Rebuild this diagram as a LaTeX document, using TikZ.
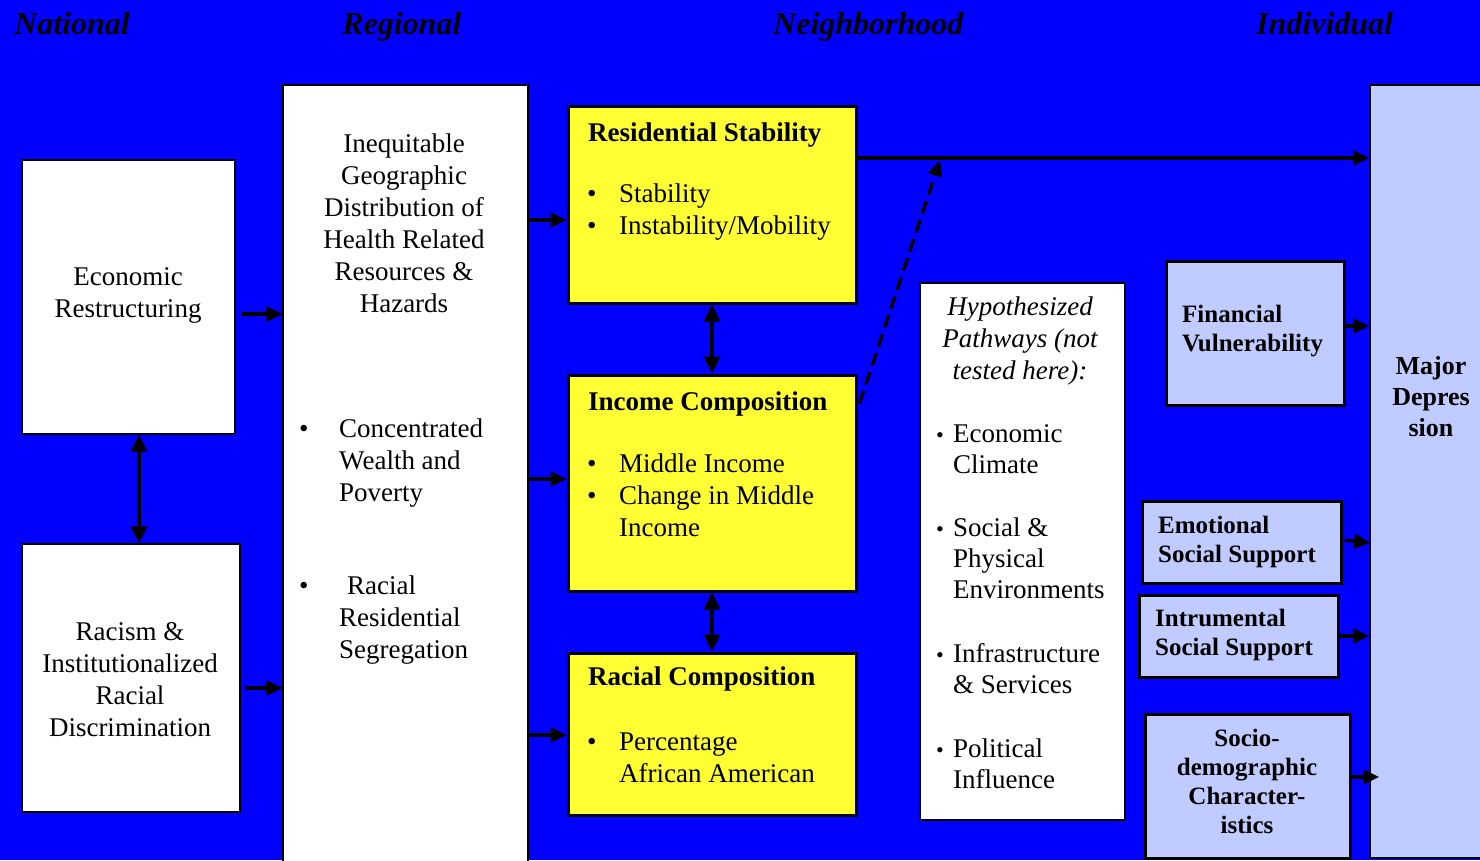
\documentclass[tikz,border=0pt]{standalone}
\usepackage{fontspec}
\setmainfont{Liberation Serif}
\usetikzlibrary{arrows.meta,calc}
\definecolor{bg}{RGB}{0,0,255}
\definecolor{yel}{RGB}{255,255,51}
\definecolor{lblue}{RGB}{192,204,255}
\begin{document}
\begin{tikzpicture}[x=1pt,y=-1pt,
  box/.style={draw=black,rectangle,inner sep=0pt},
  wbox/.style={box,fill=white,line width=1.2pt},
  ybox/.style={box,fill=yel,line width=3pt},
  lbox/.style={box,fill=lblue,line width=3pt},
  mbox/.style={box,fill=lblue,line width=2pt},
  hdr/.style={inner sep=0pt,anchor=base west,font=\fontsize{32}{36}\selectfont\bfseries\itshape},
  txt/.style={inner sep=0pt,font=\fontsize{27}{32}\selectfont},
  btxt/.style={inner sep=0pt,font=\fontsize{27}{32}\selectfont\bfseries},
  stxt/.style={inner sep=0pt,font=\fontsize{25}{29}\selectfont\bfseries},
  arr/.style={line width=3.2pt,-{Triangle[length=16pt,width=15pt]}},
  darr/.style={line width=3.4pt,{Triangle[length=17pt,width=16pt]}-{Triangle[length=17pt,width=16pt]}},
  dasharr/.style={line width=3.4pt,-{Triangle[length=16pt,width=14pt]},dash pattern=on 13pt off 7pt}
]
\fill[bg] (0,0) rectangle (1480,860);
\useasboundingbox (0,0) rectangle (1480,860);

% headers
\node[hdr] (hnat) at (14,34) {National};
\node[hdr] (hreg) at (342,34) {Regional};
\node[hdr] (hnei) at (773,34) {Neighborhood};
\node[hdr] (hind) at (1256,34) {Individual};

% boxes
\node[wbox,minimum width=213pt,minimum height=274pt] (econ) at (128.5,297) {};
\node[wbox,minimum width=218pt,minimum height=268pt] (racism) at (131,678) {};
\node[wbox,minimum width=245pt,minimum height=800pt] (reg) at (405.5,485) {};
\node[ybox,minimum width=288pt,minimum height=197pt] (rs) at (712,204.5) {};
\node[ybox,minimum width=288pt,minimum height=216pt] (ic) at (712,483) {};
\node[ybox,minimum width=288pt,minimum height=162pt] (rc) at (712,734) {};
\node[wbox,minimum width=205pt,minimum height=537pt] (hyp) at (1022.5,551.5) {};
\node[lbox,minimum width=178pt,minimum height=144pt] (fin) at (1255,333) {};
\node[lbox,minimum width=199pt,minimum height=82pt] (emo) at (1241.5,542) {};
\node[lbox,minimum width=199pt,minimum height=82pt] (ins) at (1238.5,636) {};
\node[lbox,minimum width=205pt,minimum height=144pt] (socio) at (1247.5,786) {};
\node[mbox,minimum width=130pt,minimum height=773pt] (mdep) at (1435,471.5) {};

% texts: national
\node[txt,anchor=north,align=center] (teco) at (128,266) {\rule{0pt}{19pt}Economic\\Restructuring};
\node[txt,anchor=north,align=center] (trac) at (130,621) {\rule{0pt}{19pt}Racism \&\\Institutionalized\\Racial\\Discrimination};

% regional
\node[txt,anchor=north,align=center] (treg) at (404,133) {\rule{0pt}{19pt}Inequitable\\Geographic\\Distribution of\\Health Related\\Resources \&\\Hazards};
\node[txt,anchor=base west] (b1) at (299,437) {\textbullet};
\node[txt,anchor=north west,align=left] (tconc) at (339,418) {\rule{0pt}{19pt}Concentrated\\Wealth and\\Poverty};
\node[txt,anchor=base west] (b2) at (299,594) {\textbullet};
\node[txt,anchor=north west,align=left] (tseg) at (339,575) {\rule{0pt}{19pt}\hspace*{8pt}Racial\\Residential\\Segregation};

% neighborhood
\node[btxt,anchor=base west] (trs) at (588,141) {Residential Stability};
\node[txt,anchor=base west] (b3) at (587,202) {\textbullet};
\node[txt,anchor=base west] (trs1) at (619,202) {Stability};
\node[txt,anchor=base west] (b4) at (587,234) {\textbullet};
\node[txt,anchor=base west] (trs2) at (619,234) {Instability/Mobility};

\node[btxt,anchor=base west] (tic) at (588,410) {Income Composition};
\node[txt,anchor=base west] (b5) at (587,472) {\textbullet};
\node[txt,anchor=base west] (tic1) at (619,472) {Middle Income};
\node[txt,anchor=base west] (b6) at (587,504) {\textbullet};
\node[txt,anchor=north west,align=left] (tic2) at (619,485) {\rule{0pt}{19pt}Change in Middle\\Income};

\node[btxt,anchor=base west] (trc) at (588,685) {Racial Composition};
\node[txt,anchor=base west] (b7) at (587,750) {\textbullet};
\node[txt,anchor=north west,align=left] (trc1) at (619,731) {\rule{0pt}{19pt}Percentage\\African American};

% hypothesized
\node[txt,anchor=north,align=center,font=\fontsize{27}{32}\selectfont\itshape] (thyp) at (1020,296) {\rule{0pt}{19pt}Hypothesized\\Pathways (not\\tested here):};
\node[txt,anchor=base west,font=\fontsize{22}{24}\selectfont] (h1) at (936,442) {\textbullet};
\node[txt,anchor=north west,align=left,font=\fontsize{27}{31}\selectfont] (th1) at (953,423) {\rule{0pt}{19pt}Economic\\Climate};
\node[txt,anchor=base west,font=\fontsize{22}{24}\selectfont] (h2) at (936,536) {\textbullet};
\node[txt,anchor=north west,align=left,font=\fontsize{27}{31}\selectfont] (th2) at (953,517) {\rule{0pt}{19pt}Social \&\\Physical\\Environments};
\node[txt,anchor=base west,font=\fontsize{22}{24}\selectfont] (h3) at (936,662) {\textbullet};
\node[txt,anchor=north west,align=left,font=\fontsize{27}{31}\selectfont] (th3) at (953,643) {\rule{0pt}{19pt}Infrastructure\\\& Services};
\node[txt,anchor=base west,font=\fontsize{22}{24}\selectfont] (h4) at (936,757) {\textbullet};
\node[txt,anchor=north west,align=left,font=\fontsize{27}{31}\selectfont] (th4) at (953,738) {\rule{0pt}{19pt}Political\\Influence};

% individual
\node[stxt,anchor=north west,align=left] (tfin) at (1182,304) {\rule{0pt}{18pt}Financial\\Vulnerability};
\node[stxt,anchor=north west,align=left] (temo) at (1158,515) {\rule{0pt}{18pt}Emotional\\Social Support};
\node[stxt,anchor=north west,align=left] (tins) at (1155,608) {\rule{0pt}{18pt}Intrumental\\Social Support};
\node[stxt,anchor=north,align=center] (tsoc) at (1247,728) {\rule{0pt}{18pt}Socio-\\demographic\\Character-\\istics};
\node[inner sep=0pt,anchor=north,align=center,font=\fontsize{26}{31}\selectfont\bfseries] (tmd) at (1431,356) {\rule{0pt}{18pt}Major\\Depres\\sion};

% connectors
\coordinate (c1) at ($(econ.east)+(5,17)$);
\draw[arr] (c1) -- (c1 -| reg.west);
\coordinate (c2) at ($(racism.east)+(4,10)$);
\draw[arr] (c2) -- (c2 -| reg.west);
\coordinate (c3) at ($(econ.south)+(10.5,0)$);
\draw[darr] (c3) -- (c3 |- racism.north);

\coordinate (c4) at ($(rs.west)+(0,15.5)$);
\draw[arr] (c4 -| reg.east) -- (c4);
\coordinate (c5) at ($(ic.west)+(0,-4)$);
\draw[arr] (c5 -| reg.east) -- (c5);
\coordinate (c6) at ($(rc.west)+(0,1)$);
\draw[arr] (c6 -| reg.east) -- (c6);

\draw[darr] (rs.south) -- (ic.north);
\draw[darr] (ic.south) -- (rc.north);

\coordinate (c7) at ($(rs.east)+(0,-46.5)$);
\draw[arr] (c7) -- (c7 -| mdep.west);

\coordinate (c8) at ($(ic.north east)+(2,30)$);
\coordinate (dtip) at (940,160);
\draw[dasharr] (c8) -- (dtip);

\coordinate (c9) at ($(fin.east)+(0,-7)$);
\draw[arr] (c9) -- (c9 -| mdep.west);
\coordinate (c10) at ($(emo.east)+(2,-2)$);
\coordinate (c10e) at ($(emo.east -| mdep.west)+(1,1)$);
\draw[arr] (c10) -- (c10e);
\draw[arr] (ins.east) -- (ins.east -| mdep.west);
\coordinate (c11) at ($(socio.east)+(0,-9)$);
\coordinate (c11e) at ($(c11 -| mdep.west)+(10,0)$);
\draw[arr] (c11) -- (c11e);
\end{tikzpicture}
\end{document}
